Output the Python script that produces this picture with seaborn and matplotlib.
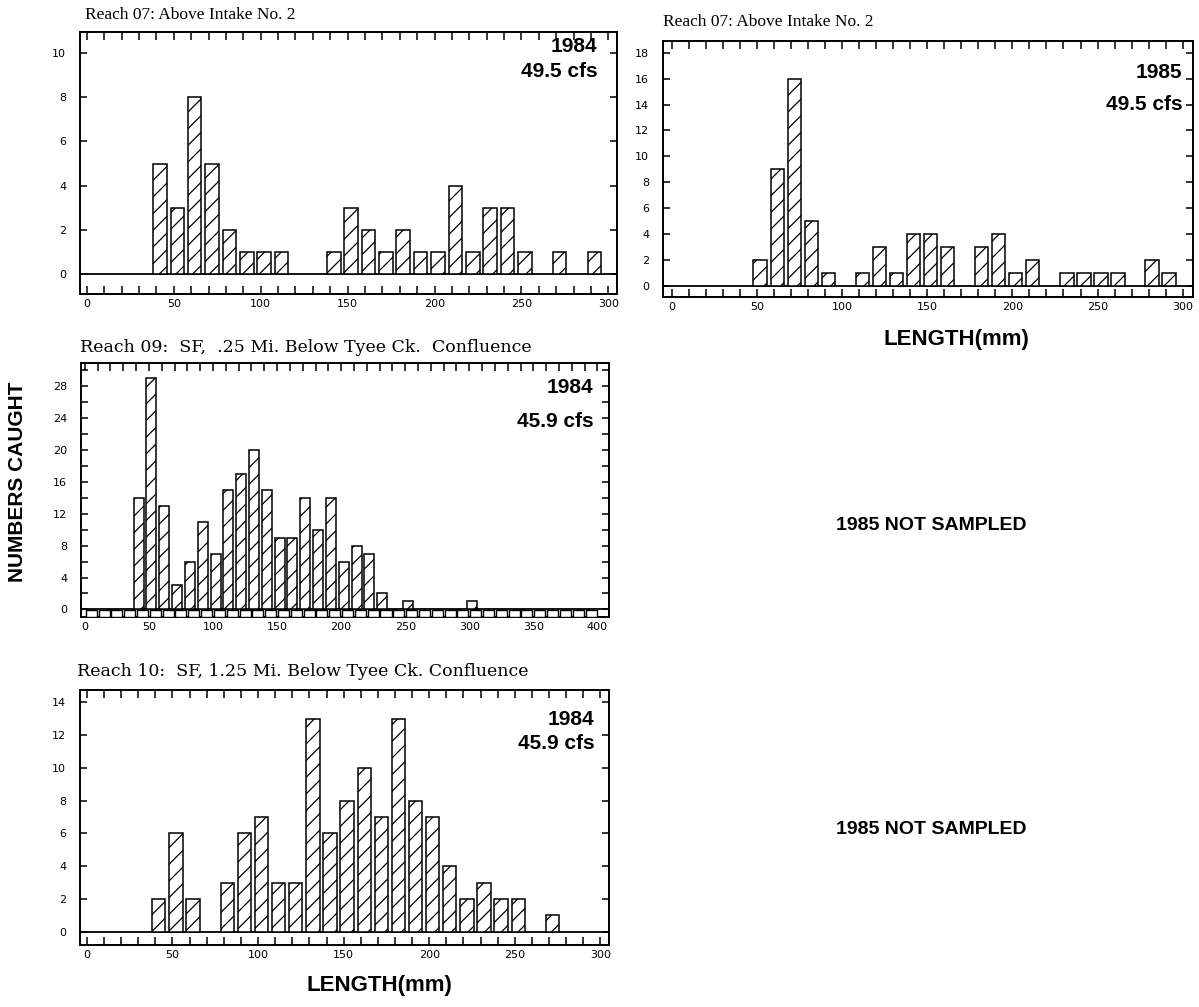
import numpy as np
import pandas as pd
import seaborn as sns
import matplotlib
matplotlib.use("Agg")
import matplotlib.pyplot as plt
from matplotlib.ticker import MultipleLocator

# ---------------- data ----------------
r07_84_len = [40, 50, 60, 70, 80, 90, 100, 110, 140, 150, 160, 170, 180, 190, 200,
              210, 220, 230, 240, 250, 270, 290]
r07_84_cnt = [5, 3, 8, 5, 2, 1, 1, 1, 1, 3, 2, 1, 2, 1, 1, 4, 1, 3, 3, 1, 1, 1]

r07_85_len = [50, 60, 70, 80, 90, 110, 120, 130, 140, 150, 160, 180, 190, 200, 210,
              230, 240, 250, 260, 280, 290]
r07_85_cnt = [2, 9, 16, 5, 1, 1, 3, 1, 4, 4, 3, 3, 4, 1, 2, 1, 1, 1, 1, 2, 1]

r09_84_len = [40, 50, 60, 70, 80, 90, 100, 110, 120, 130, 140, 150, 160, 170, 180,
              190, 200, 210, 220, 230, 250, 300]
r09_84_cnt = [14, 29, 13, 3, 6, 11, 7, 15, 17, 20, 15, 9, 9, 14, 10, 14, 6, 8, 7, 2, 1, 1]

r10_84_len = [40, 50, 60, 80, 90, 100, 110, 120, 130, 140, 150, 160, 170, 180, 190,
              200, 210, 220, 230, 240, 250, 270]
r10_84_cnt = [2, 6, 2, 3, 6, 7, 3, 3, 13, 6, 8, 10, 7, 13, 8, 7, 4, 2, 3, 2, 2, 1]

titles = ["Reach 07: Above Intake No. 2",
          "Reach 07: Above Intake No. 2",
          "Reach 09:  SF,  .25 Mi. Below Tyee Ck.  Confluence",
          "Reach 10:  SF, 1.25 Mi. Below Tyee Ck. Confluence"]
years = ["1984", "1985", "1984", "1984"]
flows = ["49.5 cfs", "49.5 cfs", "45.9 cfs", "45.9 cfs"]

# ---------------- style ----------------
sns.set_style("ticks")
plt.rcParams["font.family"] = ["DejaVu Sans"]
plt.rcParams.update({
    "hatch.linewidth": 0.9,
    "axes.linewidth": 1.4,
    "text.color": "black",
    "axes.labelcolor": "black",
    "axes.edgecolor": "black",
    "xtick.color": "black",
    "ytick.color": "black",
})

fig = plt.figure(figsize=(11.99, 10.07), dpi=100)
W, H = 1199, 1007


def px_axes(left, top, right, bottom):
    return fig.add_axes([left / W, 1 - bottom / H, (right - left) / W, (bottom - top) / H])


specs = [
    dict(box=(80, 32, 617, 294), lens=r07_84_len, cnts=r07_84_cnt, xlim=(-4, 305),
         ylim=(-0.9, 10.95), ymaj=2, ymin=2, xmax=300, txt=(0.963, 0.945, 0.85)),
    dict(box=(663, 41, 1193, 297), lens=r07_85_len, cnts=r07_85_cnt, xlim=(-5, 306),
         ylim=(-0.85, 18.9), ymaj=2, ymin=2, xmax=300, txt=(0.98, 0.875, 0.75)),
    dict(box=(81, 363, 609, 617), lens=r09_84_len, cnts=r09_84_cnt, xlim=(-3, 409),
         ylim=(-0.95, 30.9), ymaj=4, ymin=2, xmax=400, txt=(0.97, 0.905, 0.77)),
    dict(box=(80, 690, 609, 945), lens=r10_84_len, cnts=r10_84_cnt, xlim=(-4, 305),
         ylim=(-0.8, 14.75), ymaj=2, ymin=2, xmax=300, txt=(0.973, 0.886, 0.79)),
]

for i, s in enumerate(specs):
    ax = px_axes(*s["box"])
    df = pd.DataFrame({"length": np.array(s["lens"]) + 2, "count": s["cnts"]})
    sns.barplot(data=df, x="length", y="count", native_scale=True, width=0.78,
                color="white", edgecolor="black", linewidth=1.1, hatch="//",
                errorbar=None, ax=ax)
    if i == 2:
        strip = pd.DataFrame({"length": np.arange(0, 400, 10) + 5,
                              "count": np.full(40, 0.85)})
        sns.barplot(data=strip, x="length", y="count", native_scale=True, width=0.86,
                    color="white", edgecolor="black", linewidth=1.0,
                    errorbar=None, ax=ax)
        for p in ax.patches[len(s["lens"]):]:
            p.set_y(-0.92)
            p.set_height(0.9)
            p.set_zorder(3)
    ax.axhline(0, color="black", lw=1.3, zorder=0.5)
    ax.set_xlim(*s["xlim"])
    ax.set_ylim(*s["ylim"])
    ax.set_xlabel("")
    ax.set_ylabel("")
    ax.xaxis.set_major_locator(MultipleLocator(50))
    ax.xaxis.set_minor_locator(MultipleLocator(10))
    ax.yaxis.set_major_locator(MultipleLocator(s["ymaj"]))
    ax.yaxis.set_minor_locator(MultipleLocator(s["ymin"]))
    ax.tick_params(axis="both", which="both", direction="in", top=True, right=True,
                   width=1.1, labelsize=8)
    ax.tick_params(axis="x", which="both", length=6)
    ax.tick_params(axis="y", which="both", length=5)
    ax.tick_params(axis="y", which="major", pad=10)
    if i == 2:
        ax.tick_params(axis="x", which="both", bottom=False)
    ax.set_xticks(np.arange(0, s["xmax"] + 1, 50))
    ax.set_xticklabels([str(v) for v in range(0, s["xmax"] + 1, 50)])
    for sp in ax.spines.values():
        sp.set_visible(True)
        sp.set_linewidth(1.4)
    tx, ty1, ty2 = s["txt"]
    ax.text(tx, ty1, years[i], transform=ax.transAxes, ha="right", va="center",
            fontsize=15, fontweight="bold", family="Liberation Sans")
    ax.text(tx, ty2, flows[i], transform=ax.transAxes, ha="right", va="center",
            fontsize=15, fontweight="bold", family="Liberation Sans")

# titles
fig.text(85 / W, 1 - 15 / H, titles[0], ha="left", va="center", fontsize=12.5,
         family="Liberation Serif")
fig.text(663 / W, 1 - 22 / H, titles[1], ha="left", va="center", fontsize=12.5,
         family="Liberation Serif")
fig.text(80 / W, 1 - 347 / H, titles[2], ha="left", va="center", fontsize=12.5,
         family="DejaVu Serif")
fig.text(77 / W, 1 - 672 / H, titles[3], ha="left", va="center", fontsize=12.5,
         family="DejaVu Serif")

# axis labels
fig.text(956 / W, 1 - 340 / H, "LENGTH(mm)", ha="center", va="center", fontsize=16,
         fontweight="bold", family="Liberation Sans")
fig.text(379 / W, 1 - 985 / H, "LENGTH(mm)", ha="center", va="center", fontsize=16,
         fontweight="bold", family="Liberation Sans")
fig.text(18 / W, 1 - 482 / H, "NUMBERS CAUGHT", ha="center", va="center", fontsize=15,
         fontweight="bold", rotation=90, family="Liberation Sans")

fig.text(931 / W, 1 - 525 / H, "1985 NOT SAMPLED", ha="center", va="center",
         fontsize=14, fontweight="bold", family="Liberation Sans")
fig.text(931 / W, 1 - 829 / H, "1985 NOT SAMPLED", ha="center", va="center",
         fontsize=14, fontweight="bold", family="Liberation Sans")

fig.savefig("out.png", dpi=100, facecolor="white")
